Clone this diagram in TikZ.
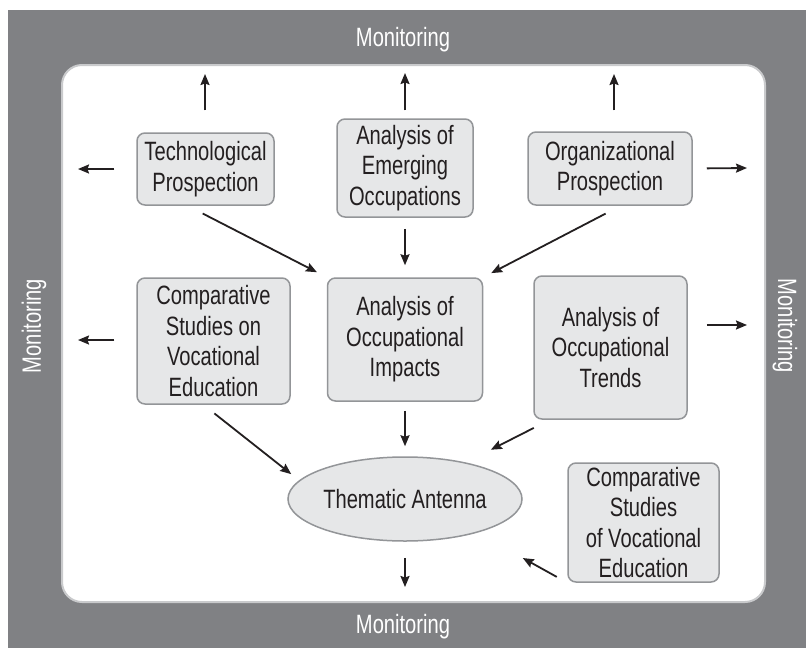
\documentclass[tikz,border=0pt]{standalone}
\usepackage{fontspec}
\setmainfont[FakeStretch=0.76]{Liberation Sans}
\usetikzlibrary{arrows.meta,shapes.geometric}
\definecolor{band}{HTML}{808184}
\definecolor{rim}{HTML}{C9CACC}
\definecolor{boxfill}{HTML}{E6E7E8}
\definecolor{boxline}{HTML}{939598}
\definecolor{ink}{HTML}{231F20}
\tikzset{
  label font/.style={font=\fontsize{26.5}{30.5}\selectfont},
  procbox/.style={label font, draw=boxline, fill=boxfill, line width=1.5pt,
    rounded corners=8pt, align=center, inner sep=0pt, text=ink},
  antenna/.style={label font, ellipse, draw=boxline, fill=boxfill, line width=1.5pt,
    inner sep=0pt, text=ink},
  bandtext/.style={label font, text=white, inner sep=0pt},
  flow/.style={draw=ink, line width=1.8pt,
    -{Stealth[length=11pt,width=9pt,inset=1.5pt]}}
}
\begin{document}
\begin{tikzpicture}[x=1pt,y=-1pt]
\useasboundingbox (0,0) rectangle (806,648);
% grey monitoring frame and white work area
\fill[band] (8,10) rectangle (806,648);
\draw[fill=white, draw=rim, line width=2pt, rounded corners=20pt] (62,65) rectangle (765,602);

% frame labels
\node[bandtext] (mtop) at (403,40) {Monitoring};
\node[bandtext] (mbot) at (403,627) {Monitoring};
\node[bandtext, rotate=90] (mleft) at (34,326) {Monitoring};
\node[bandtext, rotate=-90] (mright) at (785,326) {Monitoring};

% activity boxes
\node[procbox, minimum width=137pt, minimum height=72pt] (tech) at (205.5,169) {Technological\\Prospection};
\node[procbox, minimum width=136pt, minimum height=98pt] (emerg) at (405,168) {Analysis of\\Emerging\\Occupations};
\node[procbox, minimum width=164pt, minimum height=73pt] (org) at (610,168.5) {Organizational\\Prospection};
\node[procbox, minimum width=153pt, minimum height=126pt] (comp) at (213.5,341) {Comparative\\Studies on\\Vocational\\Education};
\node[procbox, minimum width=155pt, minimum height=123pt] (imp) at (405,339.5) {Analysis of\\Occupational\\Impacts};
\node[procbox, minimum width=153pt, minimum height=143pt] (trend) at (610.5,347.5) {Analysis of\\Occupational\\Trends};
\node[procbox, minimum width=151pt, minimum height=119pt] (compv) at (643.5,522.5) {Comparative\\Studies\\of Vocational\\Education};
\node[antenna, minimum width=234pt, minimum height=84pt] (ant) at (405,499) {Thematic Antenna};

% free ends of the arrows pointing into the frame
\coordinate (upT) at (205,74);
\coordinate (upE) at (405,73);
\coordinate (upO) at (614,74);
\coordinate (lfT) at (78,169);
\coordinate (lfC) at (78,340);
\coordinate (rtO) at (747,168);
\coordinate (rtT) at (747,325);
\coordinate (dnA) at (405,587);

% arrows towards monitoring
\draw[flow, shorten <=22pt] (tech.north -| upT) -- (upT);
\draw[flow, shorten <=8pt] (emerg.north) -- (upE);
\draw[flow, shorten <=21pt] (org.north -| upO) -- (upO);
\draw[flow, shorten <=22pt] (tech.west) -- (lfT);
\draw[flow, shorten <=22pt] (comp.west |- lfC) -- (lfC);
\draw[flow, shorten <=14pt] (org.east) -- (rtO);
\draw[flow, shorten <=19pt] (trend.east |- rtT) -- (rtT);
\draw[flow, shorten <=16pt] (ant.south) -- (dnA);

% arrows between activities
\draw[flow, shorten <=17pt, shorten >=11pt] (tech.244) -- (imp.north west);
\draw[flow, shorten <=11pt, shorten >=12pt] (emerg.south) -- (imp.north);
\draw[flow, shorten <=17pt, shorten >=9pt] (org.286) -- (imp.north east);
\draw[flow, shorten <=9pt, shorten >=10pt] (imp.south) -- (ant.north);
\draw[flow, shorten <=18pt, shorten >=28pt] (trend.230) -- (ant.31);
\draw[flow, shorten <=14pt, shorten >=10pt] (comp.261) -- (ant.170);
\draw[flow, shorten <=12pt, shorten >=52pt] (compv.south west) -- (ant.335);
\end{tikzpicture}
\end{document}
